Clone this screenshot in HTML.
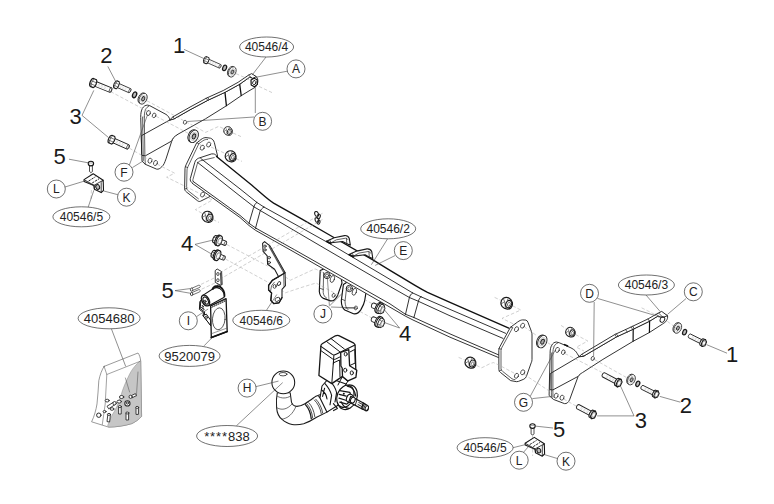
<!DOCTYPE html>
<html>
<head>
<meta charset="utf-8">
<title>Tow bar exploded diagram</title>
<style>
html,body{margin:0;padding:0;background:#fff;}
body{width:774px;height:504px;overflow:hidden;font-family:"Liberation Sans",sans-serif;}
svg{display:block;}
.p{fill:#fff;stroke:#1c1c1c;stroke-width:0.9;stroke-linejoin:round;stroke-linecap:round;}
.pn{fill:none;stroke:#1c1c1c;stroke-width:0.9;stroke-linejoin:round;stroke-linecap:round;}
.t{fill:none;stroke:#262626;stroke-width:0.72;stroke-linejoin:round;stroke-linecap:round;}
.tf{fill:#fff;stroke:#2a2a2a;stroke-width:0.6;stroke-linejoin:round;}
.hv{fill:none;stroke:#111;stroke-width:1.35;stroke-linejoin:round;stroke-linecap:round;}
.ld{fill:none;stroke:#444;stroke-width:0.6;}
.ds{fill:none;stroke:#a8a8a8;stroke-width:0.55;stroke-dasharray:3.5 2;}
.lb{fill:#fff;stroke:#333;stroke-width:0.7;}
.n{font-family:"Liberation Sans",sans-serif;font-size:22px;fill:#1a1a1a;text-anchor:middle;}
.e{font-family:"Liberation Sans",sans-serif;font-size:12px;fill:#222;text-anchor:middle;}
.c{font-family:"Liberation Sans",sans-serif;font-size:12px;fill:#222;text-anchor:middle;}
</style>
</head>
<body>
<svg width="774" height="504" viewBox="0 0 774 504">
<rect x="0" y="0" width="774" height="504" fill="#fff"/>
<defs>
  <!-- bolt: head at origin, shaft along +x, length L=20 -->
  <g id="boltL">
    <path d="M2.5,-2.4 L19.6,-2.4 C20.9,-1.8 20.9,1.8 19.6,2.4 L2.5,2.4 Z" fill="#fff" stroke="#222" stroke-width="0.9"/>
    <ellipse cx="19.3" cy="0" rx="1" ry="2.3" fill="#fff" stroke="#222" stroke-width="0.7"/>
    <path d="M6,-0.7 L16,-0.7 M6,0.8 L16,0.8" stroke="#aaa" stroke-width="0.4" stroke-dasharray="2 1.2" fill="none"/>
    <path d="M-0.4,-4.2 C-2.6,-3.2 -2.6,3.2 -0.4,4.2 L2.8,4.2 C4.6,3.2 4.6,-3.2 2.8,-4.2 Z" fill="#fff" stroke="#1a1a1a" stroke-width="1.2" stroke-linejoin="round"/>
    <path d="M0.6,-4.1 C-0.8,-2.6 -0.8,2.6 0.6,4.1 M-1.6,-1.4 L3.8,-1.4 M-1.6,1.6 L3.8,1.6" fill="none" stroke="#333" stroke-width="0.6"/>
  </g>
  <!-- bolt: head at origin facing +x (viewer), shaft along -x -->
  <g id="boltR">
    <path d="M-2,-2.2 L-16.4,-2.2 C-17.8,-1.6 -17.8,1.6 -16.4,2.2 L-2,2.2 Z" fill="#fff" stroke="#222" stroke-width="0.9"/>
    <path d="M-5,-0.6 L-14,-0.6 M-5,0.7 L-14,0.7" stroke="#aaa" stroke-width="0.4" stroke-dasharray="2 1.2" fill="none"/>
    <path d="M-2.4,-3.6 C-3.8,-2.6 -3.8,2.6 -2.4,3.6 L0.6,4 L0.6,-4 Z" fill="#fff" stroke="#1a1a1a" stroke-width="1.1" stroke-linejoin="round"/>
    <path d="M0.4,-4 L2.6,-2.2 L2.8,2 L0.8,4 L-1.4,2.4 L-1.6,-2 Z" fill="#fff" stroke="#1a1a1a" stroke-width="1.1" stroke-linejoin="round"/>
    <ellipse cx="0.7" cy="0" rx="1.5" ry="2.4" fill="none" stroke="#555" stroke-width="0.5"/>
  </g>
  <!-- large washer -->
  <g id="washer">
    <ellipse cx="-0.9" cy="0" rx="3.6" ry="5.6" fill="#fff" stroke="#222" stroke-width="0.8"/>
    <ellipse cx="0.3" cy="0" rx="3.7" ry="5.7" fill="#fff" stroke="#222" stroke-width="0.8"/>
    <ellipse cx="0.5" cy="0" rx="1.4" ry="2.3" fill="#aaa" stroke="#222" stroke-width="0.9"/>
    <ellipse cx="0.4" cy="0" rx="2.5" ry="3.8" fill="none" stroke="#999" stroke-width="0.4"/>
  </g>
  <!-- spring washer -->
  <g id="spring">
    <ellipse cx="0" cy="0" rx="1.9" ry="3" fill="#bbb" stroke="#1a1a1a" stroke-width="1.3"/>
  </g>
  <!-- flange nut (about 11px) -->
  <g id="nut">
    <path d="M-5.8,-0.6 C-5.6,-2.4 -4.8,-4 -3.4,-5 C-1.8,-6 0.4,-6.2 2,-5.6 C3.8,-4.8 5.2,-3 5.8,-0.8 C6.2,1.2 5.8,3.2 4.6,4.6 C3.4,5.8 1.6,6.2 0,5.8 L-2.6,5 C-4.2,4 -5.2,2.8 -5.6,1.4 Z" fill="#fff" stroke="#1a1a1a" stroke-width="1.25" stroke-linejoin="round"/>
    <path d="M-3.4,-5 L-2,-1.6 L-5.4,0.6 M-2,-1.6 L-1.2,4.6 M2,-5.6 L0.8,-3" fill="none" stroke="#333" stroke-width="0.7"/>
    <ellipse cx="2.1" cy="0.9" rx="2.9" ry="3.9" fill="#fff" stroke="#1a1a1a" stroke-width="1.2" transform="rotate(25 2.1 0.9)"/>
    <ellipse cx="2.3" cy="1.1" rx="1.3" ry="2.2" fill="#fff" stroke="#444" stroke-width="0.7" transform="rotate(25 2.3 1.1)"/>
  </g>
  <!-- flanged short bolt (bolt 4), head left, shaft +x -->
  <g id="bolt4">
    <path d="M2,-2.2 L7.8,-2.2 C9,-1.6 9,1.6 7.8,2.2 L2,2.2 Z" fill="#fff" stroke="#1a1a1a" stroke-width="0.9"/>
    <ellipse cx="7.6" cy="0" rx="1" ry="2" fill="#fff" stroke="#333" stroke-width="0.7"/>
    <path d="M-4.4,-3.6 C-6,-2.6 -6,2.6 -4.4,3.6 L-1,4.2 L-1,-4.2 Z" fill="#fff" stroke="#1a1a1a" stroke-width="1.1" stroke-linejoin="round"/>
    <path d="M-5.4,-1.3 L-1,-1.5 M-5.4,1.5 L-1,1.5" fill="none" stroke="#333" stroke-width="0.6"/>
    <ellipse cx="-0.4" cy="0" rx="2.6" ry="5.4" fill="#fff" stroke="#1a1a1a" stroke-width="1.15"/>
    <ellipse cx="0.9" cy="0" rx="2.6" ry="5.3" fill="#fff" stroke="#1a1a1a" stroke-width="1.1"/>
    <ellipse cx="1.6" cy="0" rx="1.7" ry="3.3" fill="#fff" stroke="#444" stroke-width="0.6"/>
  </g>
  <!-- flanged short bolt (bolt 4 right), head right facing viewer, shaft -x -->
  <g id="bolt4R">
    <path d="M-2,-2.5 L-8.2,-2.5 C-10,-1.9 -10,1.9 -8.2,2.5 L-2,2.5 Z" fill="#fff" stroke="#222" stroke-width="0.9"/>
    <ellipse cx="-2.2" cy="0" rx="2.8" ry="5.5" fill="#fff" stroke="#151515" stroke-width="0.95"/>
    <ellipse cx="-0.8" cy="0" rx="2.9" ry="5.6" fill="#fff" stroke="#151515" stroke-width="0.95"/>
    <path d="M-0.6,-4.7 L2.2,-4.4 L4.2,-1.8 L4.2,2.4 L2.2,4.8 L-0.4,4.8 L-1.8,2.4 L-1.8,-2.2 Z" fill="#fff" stroke="#151515" stroke-width="0.9" stroke-linejoin="round"/>
    <path d="M2.2,-4.4 L0.8,-1.8 L0.8,2.4 L2.2,4.8 M0.8,-1.8 L-1.8,-2.2 M0.8,2.4 L-1.8,2.4" fill="none" stroke="#333" stroke-width="0.6"/>
    <ellipse cx="2.6" cy="0.2" rx="1.3" ry="2.6" fill="none" stroke="#777" stroke-width="0.5"/>
  </g>
</defs>




<!-- ===== LEFT ARM BRACKET 40546/4 ===== -->
<g id="armL">
  <!-- plate -->
  <path class="p" d="M140.7,117 C140.6,109.5 143.2,105.2 147.6,105.1 L149.8,105.7 L166,114.4 C168.3,115.8 169.3,117.6 170,120.2 L178,134 C173.5,136.5 172.5,138.5 171.6,141.6 L166,158.9 C164.5,163 163.8,165 161.9,166.6 C160,168.6 158.5,169.6 156.5,169.1 L145.3,164.3 L142.3,161.4 Z"/>
  <!-- flange inner lines -->
  <!-- arm front face -->
  <path class="p" d="M141.6,135.6 L169.6,120.1 L174.6,118.6 L190,109.8 L207.8,100.3 L224.9,92.4 L239.6,84.3 L249.6,77.2 L252,75 L256.3,76.7 C257.9,78.5 258.2,80.8 257.6,83 L255.6,87 L250,90.3 L241.2,95.7 L226.4,105.8 L205.5,118.8 L178,134.2 C174,136.6 172.6,138.5 171.7,141 L145.4,155.8 L142.2,155.4 Z"/>
  <!-- arm top strip -->
  <path class="p" d="M169.6,120.1 L172.8,116.9 L190,107.1 L206.3,98.2 L223.3,90.5 L238.1,82.3 L248.6,75.1 L251.7,73.6 L256.3,76.7 L252.6,78.4 L249.6,77.2 L239.6,84.3 L224.9,92.4 L207.8,100.3 L190,109.8 L174.6,118.6 Z"/>
  <path class="t" d="M248.6,75.2 L252.6,78.4 M206.3,98.2 L207.8,100.3 M207.7,97.5 L209.2,99.6 M172.8,116.9 L174.6,118.6"/>
  <path class="t" d="M144.3,117 C144.3,111 145.8,107.2 148.8,106.2"/>
  <path class="t" d="M144.3,117 L144.9,156 L145.3,164.3"/>
  <path class="t" d="M142.6,117 L143.3,160"/>
  <!-- dividers -->
  <path class="hv" d="M225,92.6 L226.4,105.6" style="stroke-width:1.3"/>
  <path class="hv" d="M239.7,84.4 L241.2,95.5" style="stroke-width:1.3"/>
  <!-- holes -->
  <ellipse class="t" cx="148.4" cy="113.1" rx="1.9" ry="2.6" transform="rotate(20 148.4 113.1)"/>
  <ellipse class="t" cx="154.1" cy="115.4" rx="1.7" ry="2.4" transform="rotate(20 154.1 115.4)"/>
  <ellipse class="t" cx="150" cy="160.7" rx="1.9" ry="2.6" transform="rotate(20 150 160.7)"/>
  <ellipse class="t" cx="155.5" cy="163" rx="1.9" ry="2.6" transform="rotate(20 155.5 163)"/>
  <ellipse class="t" cx="185" cy="122.3" rx="1.6" ry="2" transform="rotate(20 185 122.3)"/>
  <!-- nut at tip -->
  <path class="hv" d="M251,80 L254,78.2 L257.2,79.8 L257.4,84.4 L254.4,86.8 L251.2,85 Z" style="fill:#fff;stroke-width:1.2"/>
  <ellipse class="pn" cx="254.3" cy="82.6" rx="1.6" ry="2.1" transform="rotate(20 254.3 82.6)"/>
</g>

<!-- ===== CROSSBAR 40546/2 ===== -->
<g id="bar">
  <!-- J plates (behind beam) -->
  <g id="J1">
    <path class="p" style="stroke-width:1.15;stroke:#111" d="M320.2,270.5 L319.3,291.5 C319.8,295.5 321.5,297.6 323.5,298.4 L330.5,300.9 C333.5,301.3 335.8,298.8 337.6,295.4 L342,283 L341,277 L326,268 Z"/>
    <path class="t" d="M323.6,272.5 L323.2,292.5 C323.6,295.5 324.8,297 326.5,298 M319.4,288 L323.2,289.5"/>
    <circle class="pn" cx="327.1" cy="275.6" r="3.1"/><circle class="t" cx="327.1" cy="275.6" r="1.6"/>
    <ellipse class="t" cx="332.4" cy="279" rx="2" ry="3.6" transform="rotate(20 332.4 279)"/>
    <ellipse class="t" cx="333.6" cy="295.4" rx="1.5" ry="2" transform="rotate(20 333.6 295.4)"/>
  </g>
  <g id="J2">
    <path class="p" style="stroke-width:1.15;stroke:#111" d="M343.4,284.5 L341.3,300.8 C341.4,305.5 342.6,308.4 344.8,310 L353.5,313.8 C357,314.4 359.4,312 360.9,309.6 C363,306 364.2,303.5 364.7,300.6 L366,292.5 L348,281.5 Z"/>
    <path class="t" d="M346.6,287.5 L345,301.5 C345.2,305.5 346.2,308 348,309.6 M341.4,299 L345,300.6 M345.5,308 L355.8,307.9"/>
    <circle class="pn" cx="349.4" cy="288.5" r="3.2"/><circle class="t" cx="349.4" cy="288.5" r="1.7"/>
    <ellipse class="t" cx="354.4" cy="291.8" rx="2" ry="3.6" transform="rotate(20 354.4 291.8)"/>
    <ellipse class="t" cx="355.8" cy="307.9" rx="1.5" ry="2" transform="rotate(20 355.8 307.9)"/>
  </g>
  <!-- left end plate -->
  <path class="p" d="M196.8,142.9 L201,139.5 C203,138 204.5,137.6 206,137.6 L210.5,138.2 C212.6,139 213.6,140.4 214.3,142.4 L217.6,156 L213,175 L209.8,196.6 L200.6,201.2 C199.4,201.7 198.6,201.5 197.6,200.8 L186.5,192 C185.2,191 184.7,190 184.6,188.5 L185,168.5 C185.1,167.2 185.4,166.4 185.9,165.2 Z"/>
  <path class="t" d="M207.6,139.5 C206,139.3 204.6,139.7 203,140.7 L198.9,143.6 L188,166.6 C187.3,168 187.1,168.8 187,170 L186.6,187.6 C186.7,189.2 187.2,190 188.2,190.8 L198.4,198.8 M196.8,142.9 L198.9,143.6 M185.4,166.6 L187.6,167.6 M184.7,189 L186.8,188.4"/>
  <ellipse class="t" cx="202.3" cy="147.7" rx="1.9" ry="2.6" transform="rotate(25 202.3 147.7)"/>
  <ellipse class="t" cx="208.7" cy="144.6" rx="1.9" ry="2.6" transform="rotate(25 208.7 144.6)"/>
  <ellipse class="t" cx="202.6" cy="194.6" rx="1.9" ry="2.6" transform="rotate(25 202.6 194.6)"/>
  <!-- beam body -->
  <path class="p" d="M216.5,156.5 L251.6,185 L273.6,203.1 L302,219.2 L330.4,235.5 L373.3,260.2 L390,270.3 L427.5,292.3 L450,302.3 L508.8,328.1 L498.4,357.5 L450,337.2 L413,320 L405.5,316.2 L390,307.2 L255.5,230.3 L249,225.5 L240,217.5 L192.5,183.5 L190.4,179 L194.9,162.3 L197.4,159 L212.3,153.9 Z" style="stroke:none"/>
  <!-- opening outline -->
  <path class="pn" d="M216.8,156.6 C216.2,154.8 215.2,154.2 213.4,153.9 L211.6,153.9 L198.6,158.2 C196.4,159.2 195.4,160.4 194.8,162.4 L190.3,178.6 C190,180.6 190.6,182 192.6,183.2"/>
  <path class="t" d="M214.2,157.6 L200.4,160.8 C198.4,161.6 197.6,162.6 197.2,164.2 L192.9,179.6 C192.8,180.6 193,181 193.4,181.4"/>
  <!-- heavy back top edge -->
  <path class="hv" d="M216.5,156.5 L251.6,185 L262,194 C266,197.5 270,200.8 273.6,203.1 L302,219.2 L330.4,235.5 L373.3,260.2 L390,270.3 L415,285.4 C420,288.4 424,290.6 427.5,292.3 L450,302.3 L508.8,328.1"/>
  <!-- line 2 -->
  <path class="pn" d="M200.7,158.4 L240,188.9 L256.8,202.4 M263.9,207 L310,232.6 L330.4,244 L390,279.4 L412.6,292.9 M421,296.8 L450,309.4 L505.6,333.3"/>
  <!-- line 3 -->
  <path class="pn" d="M197.4,162.3 L240,196 L254.2,207 M260.7,210.8 L320.1,245.7 L390,286.5 L409.4,297.5 M418.4,301.3 L450,315.8 L503,338.4"/>
  <!-- bottom lines -->
  <path class="pn" d="M192.9,181.3 L240,215.4 L249.7,223.8 M256.1,228.3 L294.3,249.6 L390,303.9 L405.5,314.3 M413.9,317.5 L450,333.9 L498.6,354.9"/>
  <path class="pn" d="M192.5,183.5 L240,217.5 L249,225.5 L255.5,230.3 L294,252 L390,307.2 L405.5,316.2 L413,320 L450,337.2 L498.4,357.5"/>
  <!-- joints -->
  <path class="pn" d="M256.8,202.4 C255,203.8 254.2,205.4 253.6,207.6 L249,223.3 M263.9,207 C262,208.4 260.8,209.6 260,211.5 L255.5,228.3 M254.2,207 L260.7,210.8 M256.8,202.4 L263.9,207 M249.7,223.8 L256.1,228.3"/>
  <path class="pn" d="M412.6,292.9 C410.8,294.2 410,295.6 409.4,297.5 L405.5,314.3 M421,296.8 C419.4,298.2 418.8,299.6 418.4,301.3 L413.9,317.5 M409.4,297.5 L418.4,301.3 M412.6,292.9 L421,296.8 M405.5,314.3 L413.9,317.5"/>
  <!-- tabs -->
  <g id="tab1">
    <path class="p" style="stroke-width:1.1" d="M326.5,241.3 L334.2,237.8 L344.5,235.6 C346.6,235.4 348.6,236.8 349.3,238.5 L350.3,245.2 L346.5,243.6 L342.6,241.5 L331,242.8 Z"/>
    <path class="t" d="M329.6,239.9 L331.3,242.8 M331,242.8 L336.4,239.8 L345.6,238.2 C346.8,238.2 347.6,238.8 348,239.8 M346.4,238.4 L346.8,243.6"/>
    <path class="hv" d="M326.5,241.3 L331,243.8"/>
  </g>
  <use href="#tab1" transform="translate(22.5,13.3)"/>
  <!-- right end plate -->
  <path class="p" d="M510.7,327.1 L517.6,322 C519.6,320.6 521,320 522.6,319.9 L525.8,320.1 C527,320.4 527.6,321.2 528,322.4 L531.4,331.4 C531.9,332.8 532,333.6 532,335 L532,359.4 C532,360.8 531.8,361.6 531.2,362.8 L526.4,376.4 C525.8,377.8 525,378.6 523.8,379.2 L518.4,381.4 C517.2,381.8 516.2,381.8 515,381.4 L510.6,380.6 L500.4,372.4 C499.4,371.6 499,370.8 498.9,369.6 L498.8,350.4 C498.8,349.2 499,348.4 499.5,347.4 Z"/>
  <path class="t" d="M512.6,327.8 L501.6,348 C501.2,348.8 501,349.6 501,350.6 L501,369 C501.2,370 501.6,370.6 502.4,371.2 L512,378.8 C513,379.4 514,379.6 515,379.6 M510.7,327.1 L512.6,327.8 M498.9,348.6 L501.2,349.2 M499.2,371 L501.4,370"/>
  <ellipse class="t" cx="516.5" cy="329.2" rx="1.9" ry="2.6" transform="rotate(25 516.5 329.2)"/>
  <ellipse class="t" cx="522.6" cy="325.7" rx="1.9" ry="2.6" transform="rotate(25 522.6 325.7)"/>
  <ellipse class="t" cx="516.5" cy="375.8" rx="1.9" ry="2.6" transform="rotate(25 516.5 375.8)"/>
  <ellipse class="t" cx="522.7" cy="372.3" rx="1.9" ry="2.6" transform="rotate(25 522.7 372.3)"/>
  <!-- chain -->
  <g class="pn" style="stroke-width:1.05">
    <ellipse cx="316.6" cy="214" rx="1.8" ry="2.6" transform="rotate(-20 316.6 214)"/>
    <ellipse cx="318.6" cy="216.6" rx="1.6" ry="2.4" transform="rotate(20 318.6 216.6)"/>
    <ellipse cx="317" cy="220" rx="1.8" ry="2.6" transform="rotate(-20 317 220)"/>
    <ellipse cx="318.6" cy="222.2" rx="1.4" ry="2" transform="rotate(20 318.6 222.2)"/>
  </g>
</g>

<!-- ===== RIGHT ARM BRACKET 40546/3 ===== -->
<g id="armR">
  <!-- plate -->
  <path class="p" d="M550.1,353 C550,346.5 552.4,342.3 556.4,342 L559.4,342.8 L571,347.9 C574.5,349.6 576.2,351.6 577.3,353.7 L579.1,356.6 L582,371 L578.1,376.5 L569.6,399.8 C568.4,402.4 566.6,404 564.4,403.6 L553.4,399.4 L549.4,395.8 Z"/>
  <!-- arm front face -->
  <path class="p" d="M550.6,373.4 L579.1,356.6 L583.7,356.1 L616.5,336.9 L632.6,329.5 L649.4,321.3 L657.2,316.5 L661.4,313 L667.5,315.7 C667.9,317.6 667.4,319.4 666.2,320.8 C665.2,322.4 664,323.4 662.4,324.1 L649.4,332.5 L633.3,341.2 L602.9,359.4 L582.6,372.5 C580.4,373.8 579,375 578.1,376.4 L552.9,389.9 L550.3,389.7 Z"/>
  <!-- arm top strip -->
  <path class="p" d="M579.1,356.6 L581.9,354.2 L614.7,334.6 L631.3,326.9 L648.1,318.9 L655.9,314.4 L661.7,311.4 L667.5,315.7 L663,317.4 L657.2,316.5 L649.4,321.3 L632.6,329.5 L616.5,336.9 L583.7,356.1 Z"/>
  <path class="t" d="M655.9,314.4 L660.4,317 M658.6,313 L663,317.4 M614.7,334.6 L616.5,336.9 M616.2,333.8 L618,336.1 M625.6,329.5 L627.2,332 M631.3,326.9 L632.6,329.5 M632.8,326.2 L634.2,328.8 M648.1,318.9 L649.4,321.3 M581.9,354.2 L583.7,356.1"/>
  <!-- dividers -->
  <path class="hv" d="M633.2,329.6 L633.1,341.2" style="stroke-width:1.2"/>
  <path class="hv" d="M649.6,321 L649.4,332.4" style="stroke-width:1.2"/>
  <!-- flange inner lines -->
  <path class="t" d="M552.9,353 C552.9,347.5 554.6,344 557.6,343 M552.9,353 L552.9,397.4 M551.4,353 L551.4,396.6"/>
  <!-- dark mark -->
  <path class="hv" d="M564.6,344.6 L567.6,346" style="stroke-width:1.6"/>
  <!-- holes -->
  <ellipse class="t" cx="557.4" cy="349.9" rx="1.9" ry="2.6" transform="rotate(20 557.4 349.9)"/>
  <ellipse class="t" cx="563.3" cy="352.2" rx="1.7" ry="2.4" transform="rotate(20 563.3 352.2)"/>
  <ellipse class="t" cx="556.1" cy="395.7" rx="1.9" ry="2.6" transform="rotate(20 556.1 395.7)"/>
  <ellipse class="t" cx="562" cy="397.7" rx="1.9" ry="2.6" transform="rotate(20 562 397.7)"/>
  <ellipse class="t" cx="592.7" cy="358.5" rx="1.6" ry="2" transform="rotate(20 592.7 358.5)"/>
  <ellipse class="pn" cx="662.4" cy="319.5" rx="2.2" ry="2.9" transform="rotate(25 662.4 319.5)"/>
</g>

<!-- ===== DASHED ASSEMBLY LINES ===== -->
<g id="dashes" class="ds">
  <path d="M236,73.6 L251,80.4 M259,86.4 L272,92.6"/>
  <path d="M110.6,91.6 L147,111 M156,116.2 L188,133.2 M198.6,139 L201,146"/>
  <path d="M147,100.8 L205.6,132.4 L218.6,126.4 L224,128.8 M233,133 L241,136.6"/>
  <path d="M129.4,148.2 L149,159.6 M157,164 L174.6,173.2 L166.6,177.2 L200,193.6"/>
  <path d="M211,147 L225,153.4 M236,158.6 L242,161.4"/>
  <path d="M204,195.4 L212.4,200 L195.4,209.6 L202.6,213.6 M213,219.6 L219,222.4"/>
  <path d="M226.6,244.4 L267.6,266 M271,268 L290.4,280.2 L315,268.8 L324,273"/>
  <path d="M225.4,259 L273,285 M280.6,289.6 L285.4,292.8 L301,287.6 L316,283 L340,296"/>
  <path d="M219.6,273 L324,212.4 M219.6,279.4 L324,218.6"/>
  <path d="M201,284.4 L215,277.6 M201.6,289.2 L215.4,282.8"/>
  <path d="M90.9,173.2 L90.9,181 M91.4,190 L91,199"/>
  <path d="M532.5,435.6 L532.5,441.4 M532.6,449 L532.6,456"/>
  <path d="M494.6,297.4 L501,300.4 M512.6,305.8 L520.8,310 L502,318.4 L515.6,325"/>
  <path d="M458.6,357.4 L465.6,360.4 M476.4,365.4 L481.6,367.8 C486,366 490,363 493.6,362.6 L500,365.6 L515,373.6"/>
  <path d="M524,326.6 L536.4,335.4 M547.6,342.6 L556.4,348.6"/>
  <path d="M561,325.4 L566,328.6 M575.6,334.6 L587.8,341 L576.4,347.2 L584,351"/>
  <path d="M524,374.2 L554.6,394.6"/>
  <path d="M565,353.6 L601.6,372.2"/>
  <path d="M594.6,359.6 L626.6,377.6"/>
  <path d="M563.6,399 L576.4,406.2"/>
  <path d="M641.6,307.8 L656,315 M667.4,321.4 L673,325.6"/>
  <path d="M372,303.6 L366,300.4 M372.6,318.4 L358,310.4"/>
</g>

<!-- ===== HARDWARE ===== -->
<g id="hw">
  <!-- left top: bolt 1 + washers -->
  <use href="#boltL" transform="translate(205.4,59.8) rotate(24) scale(0.82,0.8)"/>
  <use href="#spring" transform="translate(224.6,67.9) rotate(24) scale(0.95)"/>
  <use href="#washer" transform="translate(232,71.8) rotate(24) scale(0.95)"/>
  <!-- bolt 2 + washers -->
  <use href="#boltL" transform="translate(115.6,84.4) rotate(24) scale(0.8,0.92)"/>
  <use href="#spring" transform="translate(134.6,94.8) rotate(24)"/>
  <use href="#washer" transform="translate(142.8,98.6) rotate(24)"/>
  <!-- bolts 3 left -->
  <use href="#boltL" transform="translate(92.2,82.6) rotate(22) scale(1.02)"/>
  <use href="#boltL" transform="translate(110.6,139.2) rotate(24) scale(0.98)"/>
  <!-- washer between arm and bar, left -->
  <use href="#washer" transform="translate(193.4,136.2) rotate(24) scale(1.15)"/>
  <!-- nuts left -->
  <use href="#nut" transform="translate(228,131) scale(0.74)"/>
  <use href="#nut" transform="translate(230.6,156.3) scale(0.93)"/>
  <use href="#nut" transform="translate(207.5,216.8) scale(0.93)"/>
  <!-- nuts right -->
  <use href="#nut" transform="translate(506.6,303.2) scale(0.98)"/>
  <use href="#nut" transform="translate(470.4,362.7) scale(0.93)"/>
  <use href="#nut" transform="translate(570.4,332.2) scale(0.82)"/>
  <!-- washer between bar and arm, right -->
  <use href="#washer" transform="translate(542,341.5) rotate(24) scale(1.15)"/>
  <!-- right: bolt 1 + washers -->
  <use href="#washer" transform="translate(677.5,328) rotate(24) scale(0.95)"/>
  <use href="#spring" transform="translate(684.6,332.2) rotate(24) scale(0.95)"/>
  <use href="#boltR" transform="translate(703.4,342.8) rotate(26.5) scale(0.95)"/>
  <!-- right: bolt 2 + washers -->
  <use href="#washer" transform="translate(631.2,379.6) rotate(24) scale(0.95)"/>
  <use href="#spring" transform="translate(637.8,383.8) rotate(24) scale(0.95)"/>
  <use href="#boltR" transform="translate(656,394.2) rotate(26.5) scale(0.95)"/>
  <!-- right: bolts 3 -->
  <use href="#boltR" transform="translate(618.6,382.8) rotate(28) scale(1.05)"/>
  <use href="#boltR" transform="translate(593,414.6) rotate(28) scale(1.05)"/>
  <!-- bolts 4 left -->
  <use href="#bolt4" transform="translate(218.3,240.5) rotate(22)"/>
  <use href="#bolt4" transform="translate(216.8,255.2) rotate(22)"/>
  <!-- bolts 4 right -->
  <use href="#bolt4R" transform="translate(380.4,308.6) rotate(24)"/>
  <use href="#bolt4R" transform="translate(380.2,322.4) rotate(24)"/>
</g>

<!-- ===== SMALL PARTS ===== -->
<g id="small">
  <!-- K/L bracket (left) -->
  <g id="kb">
    <path d="M84,179.6 L93.2,173.8 L103.2,180.2 L103.5,190.4 L101.2,192.6 L94.4,189.2 L94,185.6 L84.1,181.4 Z" fill="#fff" stroke="#151515" stroke-width="1.1" stroke-linejoin="round"/>
    <path d="M84,179.6 L94,185.3 L103.2,180.2 M94,185.3 L94.4,189.2 M101.2,182.4 L101.2,192.6 M101.2,182.4 L103.2,180.2" fill="none" stroke="#151515" stroke-width="0.8"/>
    <path d="M88.6,181 L95.4,176.8 M92.2,183 L99,178.8" fill="none" stroke="#222" stroke-width="1" stroke-dasharray="2.4 1"/>
    <path d="M85.6,181.2 L94.6,186.4" fill="none" stroke="#444" stroke-width="0.5"/>
    <ellipse cx="97.7" cy="187" rx="1.9" ry="2.4" fill="#bbb" stroke="#151515" stroke-width="1" transform="rotate(-20 97.7 187)"/>
  </g>
  <use href="#kb" transform="translate(441.1,263.6)"/>
  <!-- bolt 5 left (vertical) -->
  <g id="b5">
    <path d="M89.5,165.4 L89.5,171.6 C89.9,172.6 92,172.6 92.4,171.6 L92.4,165.4 Z" fill="#fff" stroke="#222" stroke-width="0.8"/>
    <ellipse cx="90.9" cy="163.6" rx="2.7" ry="2.3" fill="#fff" stroke="#151515" stroke-width="1.1"/>
    <path d="M89,163 L92.8,163" stroke="#555" stroke-width="0.5"/>
  </g>
  <use href="#b5" transform="translate(441.6,262.5)"/>
  <!-- screws 5 (horizontal pair) -->
  <g fill="#fff" stroke="#333" stroke-width="0.7" transform="translate(0,-1.2)">
    <path d="M191.4,289.6 L198.8,286.4 C200.2,286.2 200.8,287.8 199.8,288.6 L192.4,291.8 C190.6,292.2 190.2,290.4 191.4,289.6 Z"/>
    <path d="M191.4,294 L198.8,290.8 C200.2,290.6 200.8,292.2 199.8,293 L192.4,296.2 C190.6,296.6 190.2,294.8 191.4,294 Z"/>
    <ellipse cx="191.6" cy="290.8" rx="1.2" ry="1.6" stroke="#222" stroke-width="0.8"/>
    <ellipse cx="191.6" cy="295.2" rx="1.2" ry="1.6" stroke="#222" stroke-width="0.8"/>
  </g>
  <!-- small strip plate -->
  <path d="M215.2,270.6 L217.2,269 L221.6,271.6 L222.2,284.6 L220.4,285.2 L215.3,282.4 Z" fill="#fff" stroke="#222" stroke-width="0.9" stroke-linejoin="round"/>
  <path d="M220.6,272.4 L221.2,285" stroke="#444" stroke-width="1.3" fill="none"/>
  <ellipse cx="217.9" cy="274" rx="1.2" ry="1.5" fill="#fff" stroke="#222" stroke-width="0.8"/>
  <ellipse cx="217.9" cy="280.2" rx="1.2" ry="1.5" fill="#fff" stroke="#222" stroke-width="0.8"/>
  <!-- module I -->
  <g id="modI" stroke-linejoin="round" stroke-linecap="round">
    <!-- link from strip plate to ring -->
    <path d="M218,284.8 L217.4,287.4 M219.8,285.2 L221,288" fill="none" stroke="#151515" stroke-width="1"/>
    <!-- cylinder body -->
    <path d="M202.4,295.6 L214.6,287.8 C218,286.6 222,289.4 223.8,293 C224.6,295 224.6,296.8 223.8,297.6 L208.8,305.8 Z" fill="#fff" stroke="#151515" stroke-width="1.1"/>
    <!-- chain ring on right end -->
    <path d="M212.6,288.8 C213.6,286.4 216.6,285.4 219.4,286.6 C222.6,288 224.8,291.6 224.4,296.4" fill="none" stroke="#151515" stroke-width="1.8" stroke-dasharray="1.8 0.7"/>
    <path d="M213.2,289.2 C214.6,287.6 217.2,287.2 219.4,288.4" fill="none" stroke="#151515" stroke-width="0.8"/>
    <!-- left end face -->
    <ellipse cx="205.5" cy="300.5" rx="3.5" ry="5.8" fill="#fff" stroke="#151515" stroke-width="1.4" transform="rotate(-28 205.5 300.5)"/>
    <ellipse cx="205.7" cy="300.6" rx="2.2" ry="3.9" fill="#fff" stroke="#151515" stroke-width="1.1" transform="rotate(-28 205.7 300.6)"/>
    <ellipse cx="205.1" cy="301.4" rx="0.9" ry="1.3" fill="#fff" stroke="#151515" stroke-width="0.9"/>
    <!-- lower left bracket -->
    <path d="M200.8,300.6 L200.2,308.6 L204.6,311.8 L204.4,316 L210.8,322 L210.8,325.6 L203.2,315.6 L203.4,312.4 L199.4,309.4 L199.8,302.2 Z" fill="#fff" stroke="#151515" stroke-width="1"/>
    <path d="M203.2,315.4 L206.4,314.2 L210.6,320.2 L210.8,325.4 Z" fill="#fff" stroke="#151515" stroke-width="1"/>
    <ellipse cx="206.2" cy="317.6" rx="1.2" ry="1.5" fill="#ccc" stroke="#151515" stroke-width="0.7"/>
    <path d="M201.6,307.4 L204,309.4 M202.2,305.6 L203.6,306.8" fill="none" stroke="#151515" stroke-width="1.1"/>
    <!-- front flap -->
    <path d="M210.6,305.8 L226.1,298.7 L227.2,331.6 L211.3,337.6 Z" fill="#fff" stroke="#151515" stroke-width="1.3"/>
    <path d="M210.7,307.8 L226.2,300.7 M212.4,305 L212.5,307 M214.4,304.1 L214.5,306.1 M216.4,303.2 L216.5,305.2 M218.4,302.3 L218.5,304.3 M220.4,301.4 L220.5,303.4 M222.4,300.5 L222.5,302.5 M224.4,299.6 L224.5,301.6" fill="none" stroke="#333" stroke-width="0.6"/>
    <ellipse cx="218.8" cy="318.8" rx="6.3" ry="11" fill="#fff" stroke="#333" stroke-width="0.8" transform="rotate(5 218.8 318.8)"/>
    <path d="M212.2,333.4 L226.6,328.2" fill="none" stroke="#555" stroke-width="0.6"/>
    <path d="M211.3,337.6 L227.2,331.6" fill="none" stroke="#111" stroke-width="1.6"/>
  </g>
  <!-- bracket 40546/6 -->
  <g id="br6" stroke-linejoin="round" stroke-linecap="round">
    <path d="M262.6,243.4 L264.6,241.6 L270.2,246.2 L285,272.6 L285.4,285.6 L282,289.4 L282,297.6 L279,302.8 L273.8,303.6 L270.8,300.4 L271.6,293 L268.6,290 L268.6,285.4 L272.3,280.4 L278.6,276.8 L274.6,269.2 L267.6,264.2 L267.2,255.8 L263.1,251.4 Z" fill="#fff" stroke="#1a1a1a" stroke-width="1.05"/>
    <path d="M269.4,246.6 L284.2,273" fill="none" stroke="#555" stroke-width="1.6" stroke-dasharray="0.7 0.7"/>
    <path d="M278.6,276.8 L284.6,273.4 M283.6,274.4 L284,286.4 M270.4,292 L271.6,285.6 L274.4,282.2" fill="none" stroke="#333" stroke-width="0.7"/>
    <path d="M285,272.8 L272.3,280.4 L268.6,285.4 L268.6,290 L271.6,293 L270.8,300.4 L273.8,303.6 L279,302.8 L282,297.6" fill="none" stroke="#1a1a1a" stroke-width="1.3"/>
    <circle cx="265" cy="246.2" r="1.2" fill="#fff" stroke="#1a1a1a" stroke-width="0.8"/>
    <circle cx="265" cy="249.9" r="1.2" fill="#fff" stroke="#1a1a1a" stroke-width="0.8"/>
    <circle cx="269.2" cy="257.6" r="1.25" fill="#fff" stroke="#1a1a1a" stroke-width="0.8"/>
    <circle cx="269.2" cy="262.5" r="1.25" fill="#fff" stroke="#1a1a1a" stroke-width="0.8"/>
    <ellipse cx="274.6" cy="286.4" rx="1.5" ry="1.9" fill="#fff" stroke="#222" stroke-width="0.8"/>
    <ellipse cx="279" cy="283.6" rx="1.5" ry="2.2" fill="#fff" stroke="#222" stroke-width="0.8" transform="rotate(35 279 283.6)"/>
    <path d="M276,285.4 L277.8,284.6" stroke="#222" stroke-width="0.7"/>
    <ellipse cx="277.4" cy="299.4" rx="2.6" ry="1.8" fill="#fff" stroke="#222" stroke-width="0.8" transform="rotate(-30 277.4 299.4)"/>
  </g>
  <!-- bag 4054680 -->
  <g id="bag" stroke-linejoin="round" stroke-linecap="round">
    <path d="M104.1,366.4 L138,353 C139.6,355 140.4,358 140.7,361.1 L141.6,416.4 C139,419.4 135.6,421.8 131.8,423.6 C124,426 116,427 108.6,427.1 L91.6,421.8 C94.4,416 96,410 97,403.9 C98,396 98.2,388 98.8,380.7 C100,374.6 101.8,370 104.1,366.4 Z" fill="#fff" stroke="#555" stroke-width="0.6"/>
    <path d="M139.8,361.4 C134,366 130.6,371.6 128.2,377.1 C125,383.4 122.8,389.2 121.1,395 C118.6,403 115.6,410.2 111.3,416.4 L107.7,425.4 L108.6,427.1 C116,427 124,426 131.8,423.6 C135.6,421.8 139,419.4 141.6,416.4 L140.7,361.1 Z" fill="#c6c6c6" stroke="#888" stroke-width="0.5"/>
    <path d="M106.8,374.5 L139.8,361.4 M104.1,366.4 L106.8,374.5 L105.2,404 L102.3,424.5 M125.4,378 L129.6,392 M138,372 L136.4,396" fill="none" stroke="#555" stroke-width="0.55"/>
    <!-- contents -->
    <g fill="#fff" stroke="#2a2a2a" stroke-width="0.9">
      <ellipse cx="107.2" cy="400.6" rx="2" ry="1.4"/>
      <ellipse cx="121.6" cy="397" rx="2.2" ry="1.5"/>
      <ellipse cx="119.2" cy="401.6" rx="2.2" ry="1.5"/>
      <ellipse cx="112" cy="409" rx="1.9" ry="1.3"/>
      <ellipse cx="104.6" cy="411.6" rx="1.5" ry="1.1"/>
      <ellipse cx="98.8" cy="415.2" rx="2.2" ry="2.2" stroke-width="1"/>
      <path d="M107.4,406 L113.2,402.4 L115,404.6 L109,408.6 Z"/>
      <circle cx="114.6" cy="403.2" r="1.7" stroke-width="0.9"/>
      <path d="M131.4,395.6 L135.4,393.6 L136.4,395.6 L132.2,397.8 Z"/>
      <circle cx="130.6" cy="396.8" r="1.6"/>
      <path d="M118.6,406.8 L118.6,414 L121.2,414 L121.2,406.8 Z"/>
      <ellipse cx="119.9" cy="406.6" rx="1.6" ry="1"/>
      <path d="M136,407.6 L136,414.4 L138.4,414.4 L138.4,407.6 Z"/>
      <ellipse cx="137.2" cy="407.4" rx="1.5" ry="1"/>
      <path d="M126,413.4 L126,420 L128.6,420 L128.6,413.4 Z"/>
      <ellipse cx="127.3" cy="413" rx="1.6" ry="1"/>
      <path d="M107.8,414.6 L107,421.6 L109.6,422 L110.4,415 Z"/>
      <ellipse cx="109" cy="414.4" rx="1.6" ry="1"/>
      <circle cx="127.4" cy="403.4" r="2.6" stroke-width="1.1"/>
      <circle cx="127.4" cy="403" r="1.1"/>
    </g>
  </g>
  <!-- ball H -->
  <g id="ball" stroke-linejoin="round" stroke-linecap="round">
    <!-- neck -->
    <path d="M277.3,392.7 C276.4,397 276.2,402 276.6,407.6 C277,413 278.6,416.6 281.8,419.2 C285,422.2 288.4,423.8 292.1,424.4 C296,425 300,424.6 303.7,423.7 C308.4,422.2 312.6,420 316.6,417.3 L326.9,412.1 L336,404 L331,390 L321.8,394 L315.3,396.6 C312,399 308.6,401.6 305,403.7 C301.6,405.6 298.6,406.6 296,406.3 C293.6,405.8 292.2,404.4 291.5,402.4 L290.2,392.7 Z" fill="#fff" stroke="#1a1a1a" stroke-width="1.05"/>
    <path d="M277.6,396.4 C281.6,398.6 286.4,398.6 290.4,396.2 M276.6,407.6 C281,410.4 287,410 292,404 M281.8,419.2 C287.6,418.6 293,414 296,406.3" fill="none" stroke="#333" stroke-width="0.7"/>
    <path d="M305.4,404.6 C308.6,408 310.6,413 311.3,418.8 M318.8,396.6 C322.6,399.6 327,404.6 328.7,409.8" fill="none" stroke="#1a1a1a" stroke-width="1.3"/>
    <path d="M306.8,403.8 C310,407.2 312,412.2 312.7,418 M308.8,402.8 C312,406.2 314,411 314.8,416.6 M314.4,400 C317.6,403.2 320.4,408.2 321.3,413.8 M315.8,399.2 C319,402.4 321.8,407.4 322.7,413" fill="none" stroke="#222" stroke-width="0.8"/>
    <circle cx="283.3" cy="382.4" r="11.4" fill="#fff" stroke="#1a1a1a" stroke-width="1.05"/>
    <ellipse cx="283.1" cy="374.2" rx="3.9" ry="1.7" fill="#fff" stroke="#222" stroke-width="0.8"/>
  </g>
  <!-- socket -->
  <g id="socket" stroke-linejoin="round" stroke-linecap="round">
    <!-- housing between neck and disc -->
    <path d="M322,386 L329,378 L346,384 L340,404 L326.9,412.1 L320,398 Z" fill="#fff" stroke="#151515" stroke-width="1.1"/>
    <path d="M325,383.6 C328,387 330.6,391 331.6,395.4 L330,404.8 M329.6,380.6 C333,384 335.6,388 336.6,392.6 L335,402 M321.6,390 C324.6,392 326.6,395.4 327,399 M333.4,403.6 L337.4,408.4 L333.6,410.6 M324.6,388.2 L322.6,396.4" fill="none" stroke="#151515" stroke-width="1.1"/>
    <!-- flange disc -->
    <g transform="translate(0.2,-0.3)">
    <ellipse cx="347.2" cy="397.5" rx="9.5" ry="12.8" fill="#fff" stroke="#151515" stroke-width="1.2" transform="rotate(22 347.2 397.5)"/>
    <ellipse cx="345.2" cy="396.6" rx="8.2" ry="11.4" fill="#fff" stroke="#151515" stroke-width="1.2" transform="rotate(22 345.2 396.6)"/>
    <path d="M347,386.4 C351.6,387 355,391 355.6,396.4 M341,402 C342.6,406 345,408.4 348.6,408.6" fill="none" stroke="#151515" stroke-width="1.1"/>
    <path d="M339.6,391 L349.6,392.6 L351,397 M339,394.6 L346,396.4 M338.8,398.4 L345.6,400.6 M339.6,402.4 L346.6,404.4 L350,401.6" fill="none" stroke="#151515" stroke-width="1.2"/>
    <circle cx="343.6" cy="394" r="1" fill="#151515"/>
    <ellipse cx="349.6" cy="398.6" rx="3.2" ry="4.2" fill="#fff" stroke="#151515" stroke-width="1.2" transform="rotate(25 349.6 398.6)"/>
    <path d="M350.6,396.6 L364.6,404 L362.4,409.6 L348.6,402.2 Z" fill="#fff" stroke="#151515" stroke-width="1.2"/>
    <ellipse cx="352.6" cy="400.4" rx="2.2" ry="3" fill="#fff" stroke="#151515" stroke-width="1" transform="rotate(25 352.6 400.4)"/>
    <path d="M356.8,400.2 L355,405.4 M358.6,402.8 L362.4,404.8 M357.8,404.8 L361.6,406.8" stroke="#151515" stroke-width="0.9" fill="none"/>
    <path d="M363,403.4 L367,405.6 C369.2,406.8 368.4,411.2 366,411.2 L361.4,408.8 Z" fill="#fff" stroke="#151515" stroke-width="1.2"/>
    <path d="M363.8,404.8 L362.2,408.6 M365,405.4 L363.4,409.2" stroke="#151515" stroke-width="0.9" fill="none"/>
    <ellipse cx="366.6" cy="408.4" rx="1.5" ry="2.4" fill="#fff" stroke="#151515" stroke-width="0.9" transform="rotate(25 366.6 408.4)"/>
    </g>
    <!-- box -->
    <path d="M320.9,346.4 C320.7,345 321.2,344.4 322.2,343.8 L335.4,335.8 C336.6,335.2 337.6,335.1 338.8,335.6 L353.8,343.2 C354.8,343.8 355.1,344.4 355.1,345.6 L355.9,372.9 L347.9,380.9 L342.5,376.4 L331.8,383.6 L318.9,375.5 Z" fill="#fff" stroke="#151515" stroke-width="1.3"/>
    <path d="M320.9,346.4 L332.6,354.6 C333.6,355.2 334.4,355.2 335.6,354.6 L355,345" fill="none" stroke="#151515" stroke-width="1.1"/>
    <path d="M333.9,355.2 L331.8,383.6 M320.6,350.4 L332.4,358.8 C333.6,359.6 334.6,359.6 335.8,359 L340.6,356.6 M326.4,341.4 L339.6,351.6 M331,338.6 L344.4,349 M334,362.6 L339.6,360 L340,376.6 M333.6,361 L333.4,364" fill="none" stroke="#151515" stroke-width="1"/>
    <!-- bracket plate on right face -->
    <path d="M340.7,352.3 L348.8,349.6 L349.6,365.7 L356.8,370.2 L355.9,377.3 L347.9,380.9 L342.5,376.4 L342.2,368 L340.9,366 Z" fill="#fff" stroke="#151515" stroke-width="1.3"/>
    <ellipse cx="345.7" cy="354.1" rx="1.5" ry="1.9" fill="#fff" stroke="#151515" stroke-width="0.9"/>
    <ellipse cx="345.2" cy="370.2" rx="1.6" ry="2" fill="#fff" stroke="#151515" stroke-width="0.9"/>
    <ellipse cx="351.8" cy="372.9" rx="1.6" ry="2" fill="#fff" stroke="#151515" stroke-width="0.9"/>
    <path d="M350,352 L354.8,349.4 L355.2,363 L350,365.4" fill="none" stroke="#151515" stroke-width="1"/>
    <path d="M342.5,376.4 L340,381 L338,385 M347.9,380.9 L346,384.4" fill="none" stroke="#151515" stroke-width="1"/>
  </g>
</g>

<!-- ===== LEADER LINES ===== -->
<g id="leaders" class="ld">
  <path d="M184,49.4 L204,58.6"/>
  <path d="M107.8,66.4 L116.2,82.4"/>
  <path d="M82,115.4 L93.8,90.4 M82,115.4 L108.6,137.6"/>
  <path d="M69,159.2 L88.2,162.8"/>
  <path d="M65,187 L84,181.2"/>
  <path d="M103.4,190.9 L117.8,194.7"/>
  <path d="M88.1,207.4 L93.9,190.2"/>
  <path d="M132.4,167.6 L144,160.4 M129.4,165 L147.8,114"/>
  <path d="M266,57 L252.1,75.1"/>
  <path d="M287.2,71.2 L256.6,77.1"/>
  <path d="M254,117 L187.2,121.5 M255.3,113 L255.3,87.6"/>
  <path d="M387.6,238.8 L371.4,264.7"/>
  <path d="M395,255.6 L375.2,265.4"/>
  <path d="M329.4,305.6 L327.2,276 M329.6,305.8 L342.6,293 M331,307 L355.6,307.9"/>
  <path d="M384,309.4 L399.6,328 M384,322.4 L399.6,328"/>
  <path d="M195,244.4 L212.8,240.1 M195,244.4 L211.7,254.1"/>
  <path d="M175,290.6 L190,288.6 M175,290.6 L190,293.2"/>
  <path d="M196.6,316.6 L208.1,309"/>
  <path d="M266.4,310.4 L276.8,294.5"/>
  <path d="M204.1,345.8 L212.1,337.6"/>
  <path d="M111.4,328.8 L125.7,366.4"/>
  <path d="M256,386.6 L278.5,381.1"/>
  <path d="M236.4,425.8 L282.7,382.6"/>
  <path d="M594.2,302 L593.6,356.5 M597.4,298.4 L655.9,315.7"/>
  <path d="M646,295 L660.4,311.8"/>
  <path d="M686,298.6 L667.5,314.4"/>
  <path d="M706.5,344.6 L727,353.2"/>
  <path d="M659.8,396.4 L680.4,402.2"/>
  <path d="M634,415.9 L620.7,386.4 M634,415.9 L597.1,415.9"/>
  <path d="M530.4,396 L555.2,350.2 M532.4,398.6 L551.4,396.5"/>
  <path d="M535.2,426.1 L553,428"/>
  <path d="M513,447.7 L525.4,444.6"/>
  <path d="M523.6,452.2 L529,446"/>
  <path d="M544.4,454.6 L557.6,458.6"/>
</g>

<!-- ===== LABELS ===== -->
<g id="labels">
  <!-- ellipses -->
  <ellipse class="lb" cx="266.6" cy="47" rx="27" ry="10"/>
  <text class="e" x="266.6" y="51.3">40546/4</text>
  <ellipse class="lb" cx="81.4" cy="216.8" rx="28.5" ry="10"/>
  <text class="e" x="81.4" y="221.1">40546/5</text>
  <ellipse class="lb" cx="388.2" cy="228.8" rx="27.5" ry="10"/>
  <text class="e" x="388.2" y="233.1">40546/2</text>
  <ellipse class="lb" cx="646.4" cy="285" rx="28" ry="10"/>
  <text class="e" x="646.4" y="289.3">40546/3</text>
  <ellipse class="lb" cx="485.1" cy="447.7" rx="28" ry="10"/>
  <text class="e" x="485.1" y="452">40546/5</text>
  <ellipse class="lb" cx="261.3" cy="320.3" rx="28.5" ry="10"/>
  <text class="e" x="261.3" y="324.6">40546/6</text>
  <ellipse class="lb" cx="109.1" cy="318.3" rx="31" ry="10.5"/>
  <text class="e" x="109.1" y="323" style="font-size:13px">4054680</text>
  <ellipse class="lb" cx="189.6" cy="355.9" rx="30.5" ry="10.5"/>
  <text class="e" x="189.6" y="360.6" style="font-size:13px">9520079</text>
  <ellipse class="lb" cx="227.1" cy="436" rx="30.5" ry="10.5"/>
  <text class="e" x="226.9" y="440.7" style="font-size:13px"><tspan style="letter-spacing:0.9px">****</tspan>838</text>
  <!-- circles -->
  <circle class="lb" cx="296" cy="68.9" r="9"/><text class="c" x="296" y="73.2">A</text>
  <circle class="lb" cx="262.6" cy="121.3" r="9"/><text class="c" x="262.6" y="125.6">B</text>
  <circle class="lb" cx="124" cy="172.2" r="9"/><text class="c" x="124" y="176.5">F</text>
  <circle class="lb" cx="56.3" cy="189" r="9"/><text class="c" x="56.3" y="193.3">L</text>
  <circle class="lb" cx="126.5" cy="197.2" r="9"/><text class="c" x="126.5" y="201.5">K</text>
  <circle class="lb" cx="403.3" cy="250.6" r="9"/><text class="c" x="403.3" y="254.9">E</text>
  <circle class="lb" cx="693.3" cy="291.8" r="9"/><text class="c" x="693.3" y="296.1">C</text>
  <circle class="lb" cx="589.5" cy="293.3" r="9"/><text class="c" x="589.5" y="297.6">D</text>
  <circle class="lb" cx="523.5" cy="402.3" r="9"/><text class="c" x="523.5" y="406.6">G</text>
  <circle class="lb" cx="519.2" cy="460.2" r="9"/><text class="c" x="519.2" y="464.5">L</text>
  <circle class="lb" cx="566" cy="461.2" r="9"/><text class="c" x="566" y="465.5">K</text>
  <circle class="lb" cx="188.3" cy="320.8" r="9"/><text class="c" x="188.3" y="325.1">I</text>
  <circle class="lb" cx="322.9" cy="314" r="9"/><text class="c" x="322.9" y="318.3">J</text>
  <circle class="lb" cx="247.1" cy="388.1" r="9"/><text class="c" x="247.1" y="392.4">H</text>
  <!-- numbers -->
  <text class="n" x="179" y="53">1</text>
  <text class="n" x="106.4" y="63">2</text>
  <text class="n" x="75.6" y="124">3</text>
  <text class="n" x="59.6" y="164.3">5</text>
  <text class="n" x="187.1" y="250.5">4</text>
  <text class="n" x="167.5" y="298">5</text>
  <text class="n" x="405" y="340.5">4</text>
  <text class="n" x="732" y="362.4">1</text>
  <text class="n" x="685.9" y="413">2</text>
  <text class="n" x="640.8" y="428">3</text>
  <text class="n" x="559" y="437.3">5</text>
</g>
</svg>
</body>
</html>
